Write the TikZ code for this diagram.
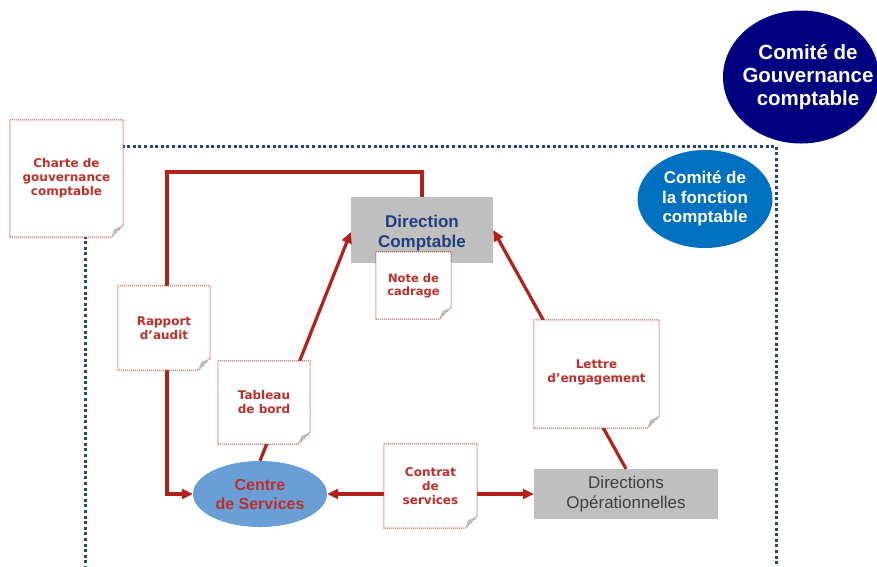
\documentclass[tikz,border=0pt]{standalone}
\usepackage{fontspec}
\setmainfont{Liberation Sans}
\newfontfamily\notefont{DejaVu Sans}
\usetikzlibrary{arrows.meta,shapes.geometric}

\definecolor{framebl}{HTML}{24467A}
\definecolor{linered}{HTML}{B3211B}
\definecolor{notered}{HTML}{BF2F2A}
\definecolor{dotred}{HTML}{C8453F}
\definecolor{boxgray}{HTML}{BFBFBF}
\definecolor{dirblue}{HTML}{1F3F7F}
\definecolor{txtgray}{HTML}{404040}
\definecolor{govnavy}{HTML}{000080}
\definecolor{fonctblue}{HTML}{0070C0}
\definecolor{centreblue}{HTML}{6A9FD5}
\definecolor{foldgray}{HTML}{BDBDBD}

\tikzset{
  frameline/.style={framebl, line width=3pt, dash pattern=on 3pt off 2.6pt},
  redline/.style={linered, line width=3.2pt},
  tip/.style={-{Triangle[length=11pt,width=10pt]}},
  note/.style={fill=white, inner sep=0pt, align=center, text=notered,
    font=\notefont\bfseries\fontsize{12}{14}\selectfont},
  graybox/.style={fill=boxgray, inner sep=0pt, align=center},
  blob/.style={ellipse, inner sep=0pt, align=center},
}

% dotted outline of a note sheet with its folded bottom-right corner
\newcommand\notesheet[1]{%
  \draw[dotred, line width=1pt, dash pattern=on 1pt off 1pt]
    (#1.north west) -- (#1.north east) -- ([yshift=12pt]#1.south east)
    -- ([xshift=-12pt]#1.south east) -- (#1.south west) -- cycle;
  \fill[foldgray] ([yshift=12pt]#1.south east) -- ([xshift=-12pt]#1.south east)
    -- ([xshift=-9pt,yshift=8pt]#1.south east) -- cycle;
}

\begin{document}
\begin{tikzpicture}[x=1pt,y=-1pt]
\useasboundingbox (0,0) rectangle (877,566);
\clip (0,0) rectangle (877,566);
\fill[white] (0,0) rectangle (877,566);

% perimeter of the accounting function
\draw[frameline] (85,146) rectangle (776,620);

% committees
\node[blob, fill=govnavy, minimum width=156pt, minimum height=133pt] (gouv) at (801,77) {};
\node[align=center, text=white, inner sep=0pt,
  font=\bfseries\fontsize{20.5}{23}\selectfont] (gouvText) at (808,77)
  {Comité de\\Gouvernance\\comptable};
\node[blob, fill=fonctblue, text=white, minimum width=135pt, minimum height=98pt,
  font=\bfseries\fontsize{17}{19.5}\selectfont] (fonct) at (705,199)
  {Comité de\\la fonction\\comptable};

% main actors
\node[graybox, minimum width=142pt, minimum height=66pt] (dircomp) at (422,230) {};
\node[align=center, text=dirblue, font=\bfseries\fontsize{17}{20}\selectfont,
  inner sep=0pt] (dircompText) at ([yshift=-3pt]dircomp.center)
  {Direction\\Comptable};
\node[graybox, minimum width=184pt, minimum height=50pt, text=txtgray,
  font=\fontsize{17}{20}\selectfont] (dirops) at (626,494)
  {Directions\\Opérationnelles};
\node[blob, fill=centreblue, text=notered, minimum width=134pt, minimum height=66pt,
  font=\bfseries\fontsize{16}{19}\selectfont] (centre) at (260,494)
  {Centre\\de Services};

% flows
\coordinate (loopR) at (422,172);
\coordinate (loopL) at (167,172);
\draw[redline, tip] (dircomp.north) -- (loopR) -- (loopL) |- (centre.west);
\draw[redline, tip] (centre.north) -- ([yshift=-2pt]dircomp.west);
\draw[redline, tip] (dirops.north) -- (dircomp.east);
\draw[redline, {Triangle[length=11pt,width=10pt]}-{Triangle[length=11pt,width=10pt]}]
  (centre.east) -- (dirops.west);

% documents
\node[note, minimum width=113pt, minimum height=117pt] (charte) at (66.5,178.5)
  {Charte de\\gouvernance\\comptable};
\node[note, minimum width=92pt, minimum height=84pt] (rapport) at (164,328)
  {Rapport\\d’audit};
\node[note, minimum width=92pt, minimum height=83pt] (tableau) at (264,402.5)
  {Tableau\\de bord};
\node[note, minimum width=75pt, minimum height=67pt,
  font=\notefont\bfseries\fontsize{11.5}{13}\selectfont] (cadrage) at (413.5,285.5)
  {Note de\\cadrage};
\node[note, minimum width=125pt, minimum height=108pt, text depth=6pt] (lettre) at (596.5,374)
  {Lettre\\d’engagement};
\node[note, minimum width=93pt, minimum height=84pt] (contrat) at (430.5,486)
  {Contrat\\de\\services};

\notesheet{charte}
\notesheet{rapport}
\notesheet{tableau}
\notesheet{cadrage}
\notesheet{lettre}
\notesheet{contrat}
\end{tikzpicture}
\end{document}
